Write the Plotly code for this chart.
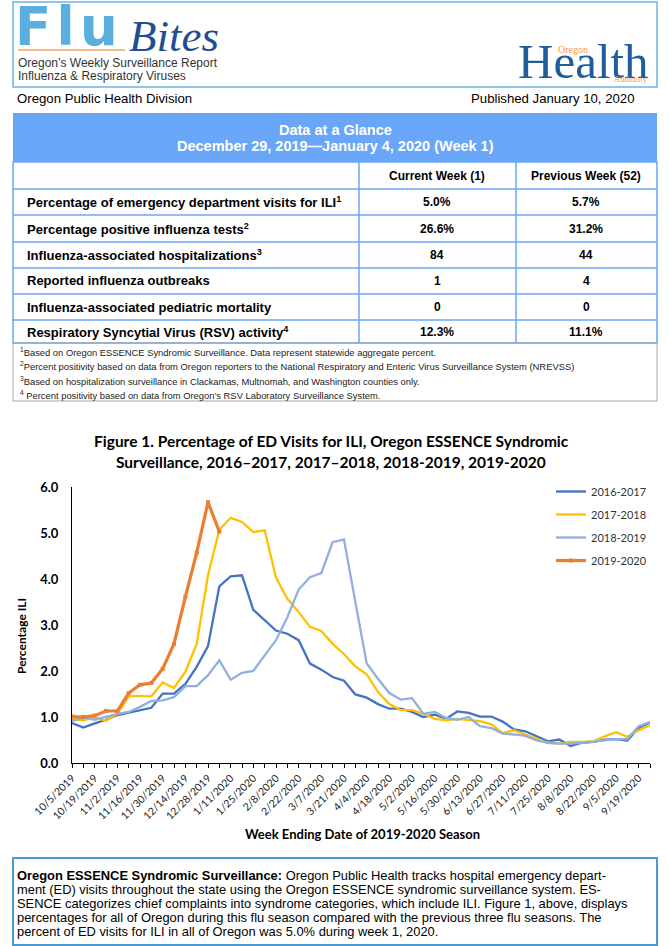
"""FluBites page: Data at a Glance table and Figure 1 (ED visits for ILI)."""

import pandas as pd
import plotly.graph_objects as go

W, H = 669, 946

# ---- data -------------------------------------------------------------
weeks = pd.date_range("2019-10-05", periods=52, freq="7D")
label_weeks = weeks[::2]
week_labels = [f"{d.month}/{d.day}/{d.year}" for d in label_weeks]

ili_2016_2017 = [0.87, 0.77, 0.86, 0.94, 1.04, 1.09, 1.14, 1.20, 1.51, 1.51, 1.72, 2.09, 2.54,
                 3.84, 4.06, 4.08, 3.33, 3.10, 2.88, 2.81, 2.67, 2.16, 2.03, 1.87, 1.79, 1.49,
                 1.42, 1.28, 1.18, 1.18, 1.11, 1.00, 1.05, 0.96, 1.12, 1.09, 1.01, 1.01, 0.90,
                 0.73, 0.69, 0.58, 0.47, 0.51, 0.37, 0.44, 0.46, 0.51, 0.52, 0.49, 0.76, 0.88]
ili_2017_2018 = [0.96, 0.93, 0.99, 0.92, 1.07, 1.45, 1.46, 1.45, 1.75, 1.63, 1.98, 2.59, 4.08,
                 5.07, 5.33, 5.24, 5.02, 5.06, 4.03, 3.57, 3.28, 2.96, 2.87, 2.59, 2.37, 2.10,
                 1.93, 1.54, 1.28, 1.15, 1.15, 1.07, 0.96, 0.93, 0.96, 0.93, 0.91, 0.84, 0.65,
                 0.71, 0.62, 0.53, 0.44, 0.42, 0.46, 0.46, 0.47, 0.58, 0.67, 0.57, 0.71, 0.82]
ili_2018_2019 = [0.91, 0.99, 0.94, 1.00, 1.07, 1.11, 1.22, 1.35, 1.36, 1.43, 1.67, 1.67, 1.91,
                 2.23, 1.81, 1.96, 2.00, 2.34, 2.67, 3.17, 3.77, 4.04, 4.13, 4.80, 4.86, 3.50,
                 2.17, 1.83, 1.52, 1.38, 1.41, 1.07, 1.11, 0.98, 0.94, 1.00, 0.80, 0.76, 0.64,
                 0.62, 0.59, 0.49, 0.44, 0.42, 0.42, 0.44, 0.46, 0.49, 0.52, 0.52, 0.80, 0.89]
ili_2019_2020 = [1.01, 1.00, 1.03, 1.13, 1.13, 1.52, 1.70, 1.74, 2.05, 2.59, 3.61, 4.57, 5.67,
                 5.03]

seasons = ["2016-2017", "2017-2018", "2018-2019", "2019-2020"]
season_values = [ili_2016_2017, ili_2017_2018, ili_2018_2019, ili_2019_2020]

row_labels = [
    "Percentage of emergency department visits for ILI<sup>1</sup>",
    "Percentage positive influenza tests<sup>2</sup>",
    "Influenza-associated hospitalizations<sup>3</sup>",
    "Reported influenza outbreaks",
    "Influenza-associated pediatric mortality",
    "Respiratory Syncytial Virus (RSV) activity<sup>4</sup>",
]
current_week = ["5.0%", "26.6%", "84", "1", "0", "12.3%"]
previous_week = ["5.7%", "31.2%", "44", "4", "0", "11.1%"]

footnotes = [
    "<sup>1</sup>Based on Oregon ESSENCE Syndromic Surveillance. Data represent statewide aggregate percent.",
    "<sup>2</sup>Percent positivity based on data from Oregon reporters to the National Respiratory and Enteric Virus Surveillance System (NREVSS)",
    "<sup>3</sup>Based on hospitalization surveillance in Clackamas, Multnomah, and Washington counties only.",
    "<sup>4</sup> Percent positivity based on data from Oregon\u2019s RSV Laboratory Surveillance System.",
]

body_lines = [
    "<b>Oregon ESSENCE Syndromic Surveillance:</b> Oregon Public Health tracks hospital emergency depart-",
    "ment (ED) visits throughout the state using the Oregon ESSENCE syndromic surveillance system. ES-",
    "SENCE categorizes chief complaints into syndrome categories, which include ILI. Figure 1, above, displays",
    "percentages for all of Oregon during this flu season compared with the previous three flu seasons. The",
    "percent of ED visits for ILI in all of Oregon was 5.0% during week 1, 2020.",
]

# ---- styling ----------------------------------------------------------
SEASON_COLORS = ["#4472C4", "#FFC000", "#93AFDE", "#ED7D31"]
ARIAL = "Liberation Sans, Arial, sans-serif"
NARROW = "Liberation Sans Narrow, Arial Narrow, Liberation Sans, sans-serif"
SERIF = "Liberation Serif, Times New Roman, serif"
CALIBRI = "Lato, Carlito, Calibri, sans-serif"
TABLE_BLUE = "#6AA6F8"


def px(x):
    return x / W


def py(y):
    return 1 - y / H


def label(fig, x, y, s, size=12, color="#000", family=ARIAL, xanchor="left", **kw):
    fig.add_annotation(
        x=px(x), y=py(y), xref="paper", yref="paper", text=s, showarrow=False,
        xanchor=xanchor, yanchor="middle", font=dict(size=size, color=color, family=family),
        **kw,
    )


def box(fig, x0, y0, x1, y1, line=None, width=1, fill=None):
    fig.add_shape(
        type="rect", xref="paper", yref="paper",
        x0=px(x0), x1=px(x1), y0=py(y1), y1=py(y0),
        line=dict(color=line or "rgba(0,0,0,0)", width=width if line else 0),
        fillcolor=fill or "rgba(0,0,0,0)",
    )


def hline(fig, x0, x1, y, color, width=1):
    fig.add_shape(type="line", xref="paper", yref="paper", x0=px(x0), x1=px(x1),
                  y0=py(y), y1=py(y), line=dict(color=color, width=width))


def vline(fig, x, y0, y1, color, width=1):
    fig.add_shape(type="line", xref="paper", yref="paper", x0=px(x), x1=px(x),
                  y0=py(y0), y1=py(y1), line=dict(color=color, width=width))


fig = go.Figure()

for name, vals, color in zip(seasons, season_values, SEASON_COLORS):
    current = name == "2019-2020"
    fig.add_trace(
        go.Scatter(
            x=weeks[: len(vals)],
            y=vals,
            name=name,
            legendgroup=name,
            mode="lines+markers" if current else "lines",
            line=dict(color=color, width=3.2 if current else 2.3),
            marker=dict(symbol="square", size=4, color=color),
        )
    )

# ---- header -----------------------------------------------------------
box(fig, 13, 2, 657, 87, line="#6CB4E4", width=1.5)
label(fig, 13, 27, "<b>F\u200al\u200au</b>", size=53, color="#5AAEE0",
      family="DejaVu Sans, sans-serif")
hline(fig, 18, 125, 50, "#F5A65B", 1.5)
label(fig, 127, 36, "<i>Bites</i>", size=45, color="#1F4E96", family=SERIF)
label(fig, 16, 63, "Oregon\u2019s Weekly Surveillance Report", size=12, color="#333")
label(fig, 16, 76, "Influenza &amp; Respiratory Viruses", size=12, color="#333")

label(fig, 651, 62, "Health", size=49, color="#1F5D9C", family=SERIF, xanchor="right")
label(fig, 573, 49, "Oregon", size=10, color="#F39C4A", family=SERIF, xanchor="center")
label(fig, 650, 79, "Authority", size=8.5, color="#F39C4A", family=SERIF, xanchor="right")

label(fig, 15, 99, "Oregon Public Health Division", size=13.2)
label(fig, 637, 99, "Published January 10, 2020", size=13.2, xanchor="right")

# ---- data at a glance table ------------------------------------------
box(fig, 13, 113, 657, 162, fill=TABLE_BLUE)
label(fig, 335, 130, "<b>Data at a Glance</b>", size=14.5, color="white", xanchor="center")
label(fig, 335, 146, "<b>December 29, 2019\u2014January 4, 2020 (Week 1)</b>", size=14.5,
      color="white", xanchor="center")

table_top, table_bottom = 162, 343
row_lines = [189, 215, 242, 268, 294, 320, 343]
col_left, col_a, col_b, col_right = 13, 359, 516, 657
box(fig, col_left, table_top, col_right, table_bottom, line=TABLE_BLUE, width=1.5)
for y in row_lines[:-1]:
    hline(fig, col_left, col_right, y, TABLE_BLUE, 1.5)
vline(fig, col_a, table_top, table_bottom, TABLE_BLUE, 1.5)
vline(fig, col_b, table_top, table_bottom, TABLE_BLUE, 1.5)

label(fig, 437, 176, "<b>Current Week (1)</b>", size=12, xanchor="center")
label(fig, 586, 176, "<b>Previous Week (52)</b>", size=12, xanchor="center")
for i, (lab, cur, prev) in enumerate(zip(row_labels, current_week, previous_week)):
    yc = (row_lines[i] + row_lines[i + 1]) / 2
    label(fig, 25, yc, f"<b>{lab}</b>", size=13, family=NARROW)
    label(fig, 437, yc, f"<b>{cur}</b>", size=12, xanchor="center")
    label(fig, 586, yc, f"<b>{prev}</b>", size=12, xanchor="center")

box(fig, 13, 343, 657, 401, line="#A6A6A6", width=1)
for y, note in zip([352, 366, 381, 395], footnotes):
    label(fig, 18, y, note, size=9.4, color="#222", family=NARROW)

# ---- figure titles ----------------------------------------------------
label(fig, 331, 441, "<b>Figure 1. Percentage of ED Visits for ILI, Oregon ESSENCE Syndromic</b>",
      size=15.5, family=CALIBRI, xanchor="center")
label(fig, 331, 462, "<b>Surveillance, 2016\u20132017, 2017\u20132018, 2018-2019, 2019-2020</b>",
      size=15.5, family=CALIBRI, xanchor="center")
label(fig, 21, 636, "<b>Percentage ILI</b>", size=12, family=CALIBRI, xanchor="center",
      textangle=-90)
label(fig, 362, 834, "<b>Week Ending Date of 2019-2020 Season</b>", size=13, family=CALIBRI,
      xanchor="center")

# ---- bottom text box --------------------------------------------------
box(fig, 13, 858, 657, 945, line="#4A9BD4", width=2)
for y, line in zip([875, 889.5, 903.5, 917, 931], body_lines):
    label(fig, 15, y, line, size=12.9)

fig.update_layout(
    width=W,
    height=H,
    margin=dict(l=0, r=0, t=0, b=0, autoexpand=False),
    paper_bgcolor="white",
    plot_bgcolor="white",
    showlegend=True,
    legend=dict(
        x=px(551), y=py(477), xanchor="left", yanchor="top",
        font=dict(family=CALIBRI, size=11, color="#333"),
        traceorder="grouped", tracegroupgap=4, itemwidth=30,
        bgcolor="rgba(0,0,0,0)",
    ),
    xaxis=dict(
        domain=[px(72), px(650)],
        range=[weeks[0], weeks[-1]],
        automargin=False,
        tickmode="array",
        tickvals=list(label_weeks),
        ticktext=week_labels,
        tickangle=-45,
        ticks="outside",
        ticklen=4,
        tickcolor="#000",
        minor=dict(tickvals=list(weeks), ticks="outside", ticklen=4, tickcolor="#000"),
        showline=True,
        linecolor="#000",
        linewidth=1,
        showgrid=False,
        zeroline=False,
        tickfont=dict(family=CALIBRI, size=10.5, color="#222"),
    ),
    yaxis=dict(
        domain=[py(763), py(487)],
        range=[0, 6],
        automargin=False,
        dtick=1,
        tickformat=".1f",
        showline=True,
        linecolor="#000",
        linewidth=1,
        showgrid=False,
        zeroline=False,
        ticks="",
        ticklabelstandoff=10,
        tickfont=dict(family=CALIBRI, size=13, color="#000", weight="bold"),
    ),
)

fig.write_html(
    "out.html",
    config={"displayModeBar": False},
    post_script="document.body.style.margin = '0';",
)
